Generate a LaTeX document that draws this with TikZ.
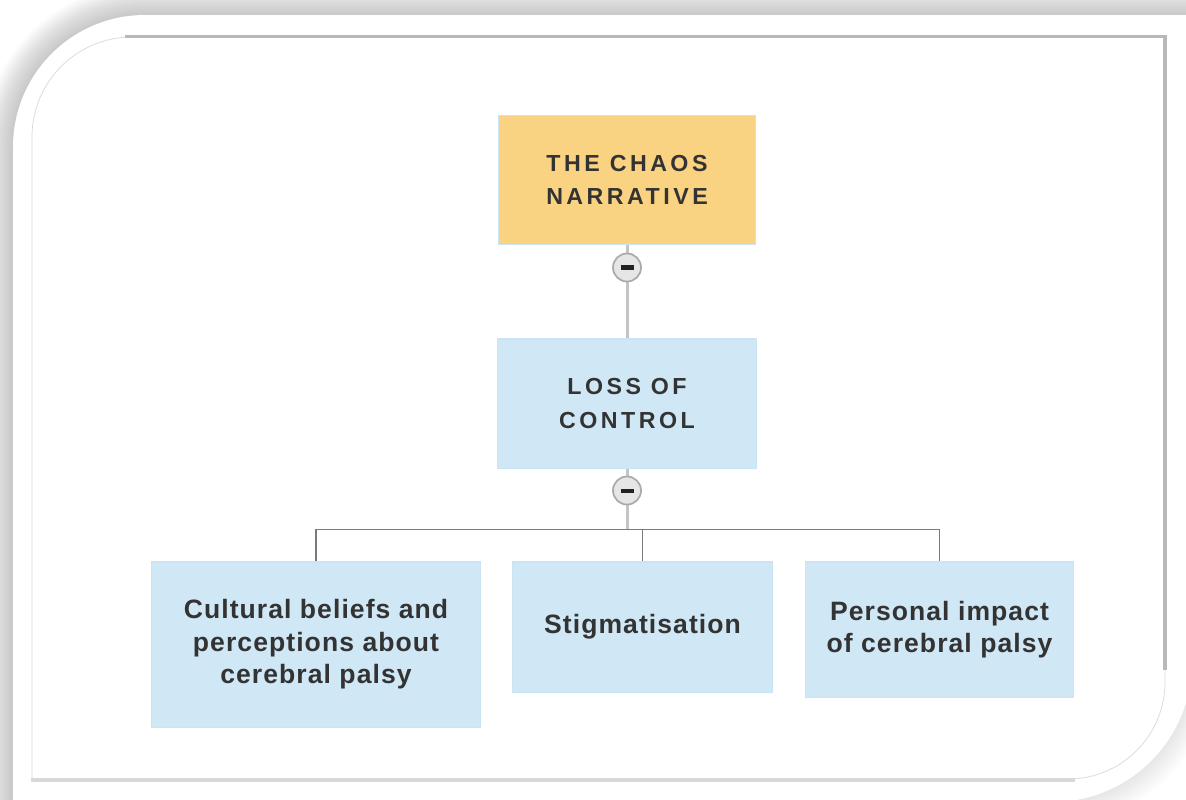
\documentclass[tikz,border=0pt]{standalone}
\usepackage{fontspec}
\setmainfont{Liberation Sans}
\newfontfamily\headfont[LetterSpace=15]{Liberation Sans}
\newfontfamily\bodyfont[LetterSpace=4]{Liberation Sans}
\definecolor{chaosfill}{HTML}{FAD382}
\definecolor{palefill}{HTML}{D0E7F5}
\definecolor{paleedge}{HTML}{C9E4F4}
\definecolor{ink}{HTML}{333333}
\definecolor{stemgray}{HTML}{C4C4C4}
\definecolor{busgray}{HTML}{7A7A7A}
\definecolor{framegray}{HTML}{B6B9B6}
\definecolor{framelight}{HTML}{D8D8D8}
\definecolor{knobfill}{HTML}{E6E6E6}
\definecolor{knobedge}{HTML}{ABABAB}
\definecolor{knobbar}{HTML}{222222}
\tikzset{
  headbox/.style={rectangle, inner sep=0pt, align=center, text=ink,
    font=\headfont\bfseries\fontsize{6.6}{9.4}\selectfont},
  bodybox/.style={rectangle, inner sep=0pt, align=center, text=ink,
    fill=palefill, draw=paleedge, line width=0.3pt,
    font=\bodyfont\bfseries\fontsize{7.55}{9.25}\selectfont},
  stem/.style={stemgray, line width=0.85pt},
  busline/.style={busgray, line width=0.43pt},
  knob/.style={circle, minimum size=0.28cm, inner sep=0pt, fill=knobfill,
    draw=knobedge, line width=0.5pt},
}
\begin{document}
\begin{tikzpicture}[x=0.01cm, y=-0.01cm]
\useasboundingbox (0,0) rectangle (1186,799);
\clip (0,0) rectangle (1186,799);

% soft shadow around the outer card: strong along top and left,
% fainter round the lower right corner
\def\cardpath{(13,1000) -- (13,147) .. controls (13,74.1) and (72.1,15) .. (145,15)
  -- (1192,15) -- (1192,662) .. controls (1192,739.3) and (1129.3,802) .. (1052,802)
  -- (1052,1000) -- cycle}
\def\topleftpath{(13,1000) -- (13,147) .. controls (13,74.1) and (72.1,15) .. (145,15) -- (1260,15)}
\def\cornerpath{(1192,600) -- (1192,662) .. controls (1192,739.3) and (1129.3,802) .. (1052,802) -- (1000,802)}
\foreach \w in {4,8,...,60}
  \draw[black, opacity=0.015, line width=\w*0.2845pt, line join=round] \topleftpath;
\foreach \w in {4,8,...,48}
  \draw[black, opacity=0.008, line width=\w*0.2845pt, line join=round] \cornerpath;
\fill[white] \cardpath;

% inner frame
\draw[gray!30, line width=0.2pt] (32,779) -- (32,137) .. controls (32,81.8) and (76.8,37) .. (132,37)
  -- (1165,37) -- (1165,682) .. controls (1165,735.6) and (1121.6,779) .. (1068,779) -- cycle;
\draw[framegray, line width=0.9pt] (125,36.5) -- (1165,36.5) -- (1165,670);
\draw[framelight, line width=1.1pt] (31,780) -- (1075,780);

% boxes
\node[headbox, fill=chaosfill, draw=paleedge, line width=0.3pt,
  minimum width=2.57cm, minimum height=1.29cm] (chaos) at (627,180)
  {THE CHAOS\\NARRATIVE};
\node[headbox, fill=palefill, draw=paleedge, line width=0.3pt,
  minimum width=2.59cm, minimum height=1.29cm] (loss) at (627,403.5)
  {LOSS OF\\CONTROL};
\node[bodybox, minimum width=3.28cm, minimum height=1.65cm] (cult) at (316,644.5)
  {Cultural beliefs and\\perceptions about\\cerebral palsy};
\node[bodybox, minimum width=2.59cm, minimum height=1.30cm] (stig) at (642.5,627)
  {Stigmatisation};
\node[bodybox, minimum width=2.67cm, minimum height=1.35cm] (pers) at (939.5,629.5)
  {Personal impact\\of cerebral palsy};

% connectors
\coordinate (bus) at (627,529.5);
\draw[stem] (chaos.south) -- (chaos.south |- loss.north);
\draw[stem] (loss.south) -- (bus);
\draw[busline] (cult.north) |- (bus) -| (pers.north);
\draw[busline] (stig.north) -- (stig.north |- bus);

% collapse knobs
\node[knob] (k1) at (627,267.5) {\color{knobbar}\rule{3.7pt}{1.15pt}};
\node[knob] (k2) at (627,490.5) {\color{knobbar}\rule{3.7pt}{1.15pt}};
\end{tikzpicture}
\end{document}
